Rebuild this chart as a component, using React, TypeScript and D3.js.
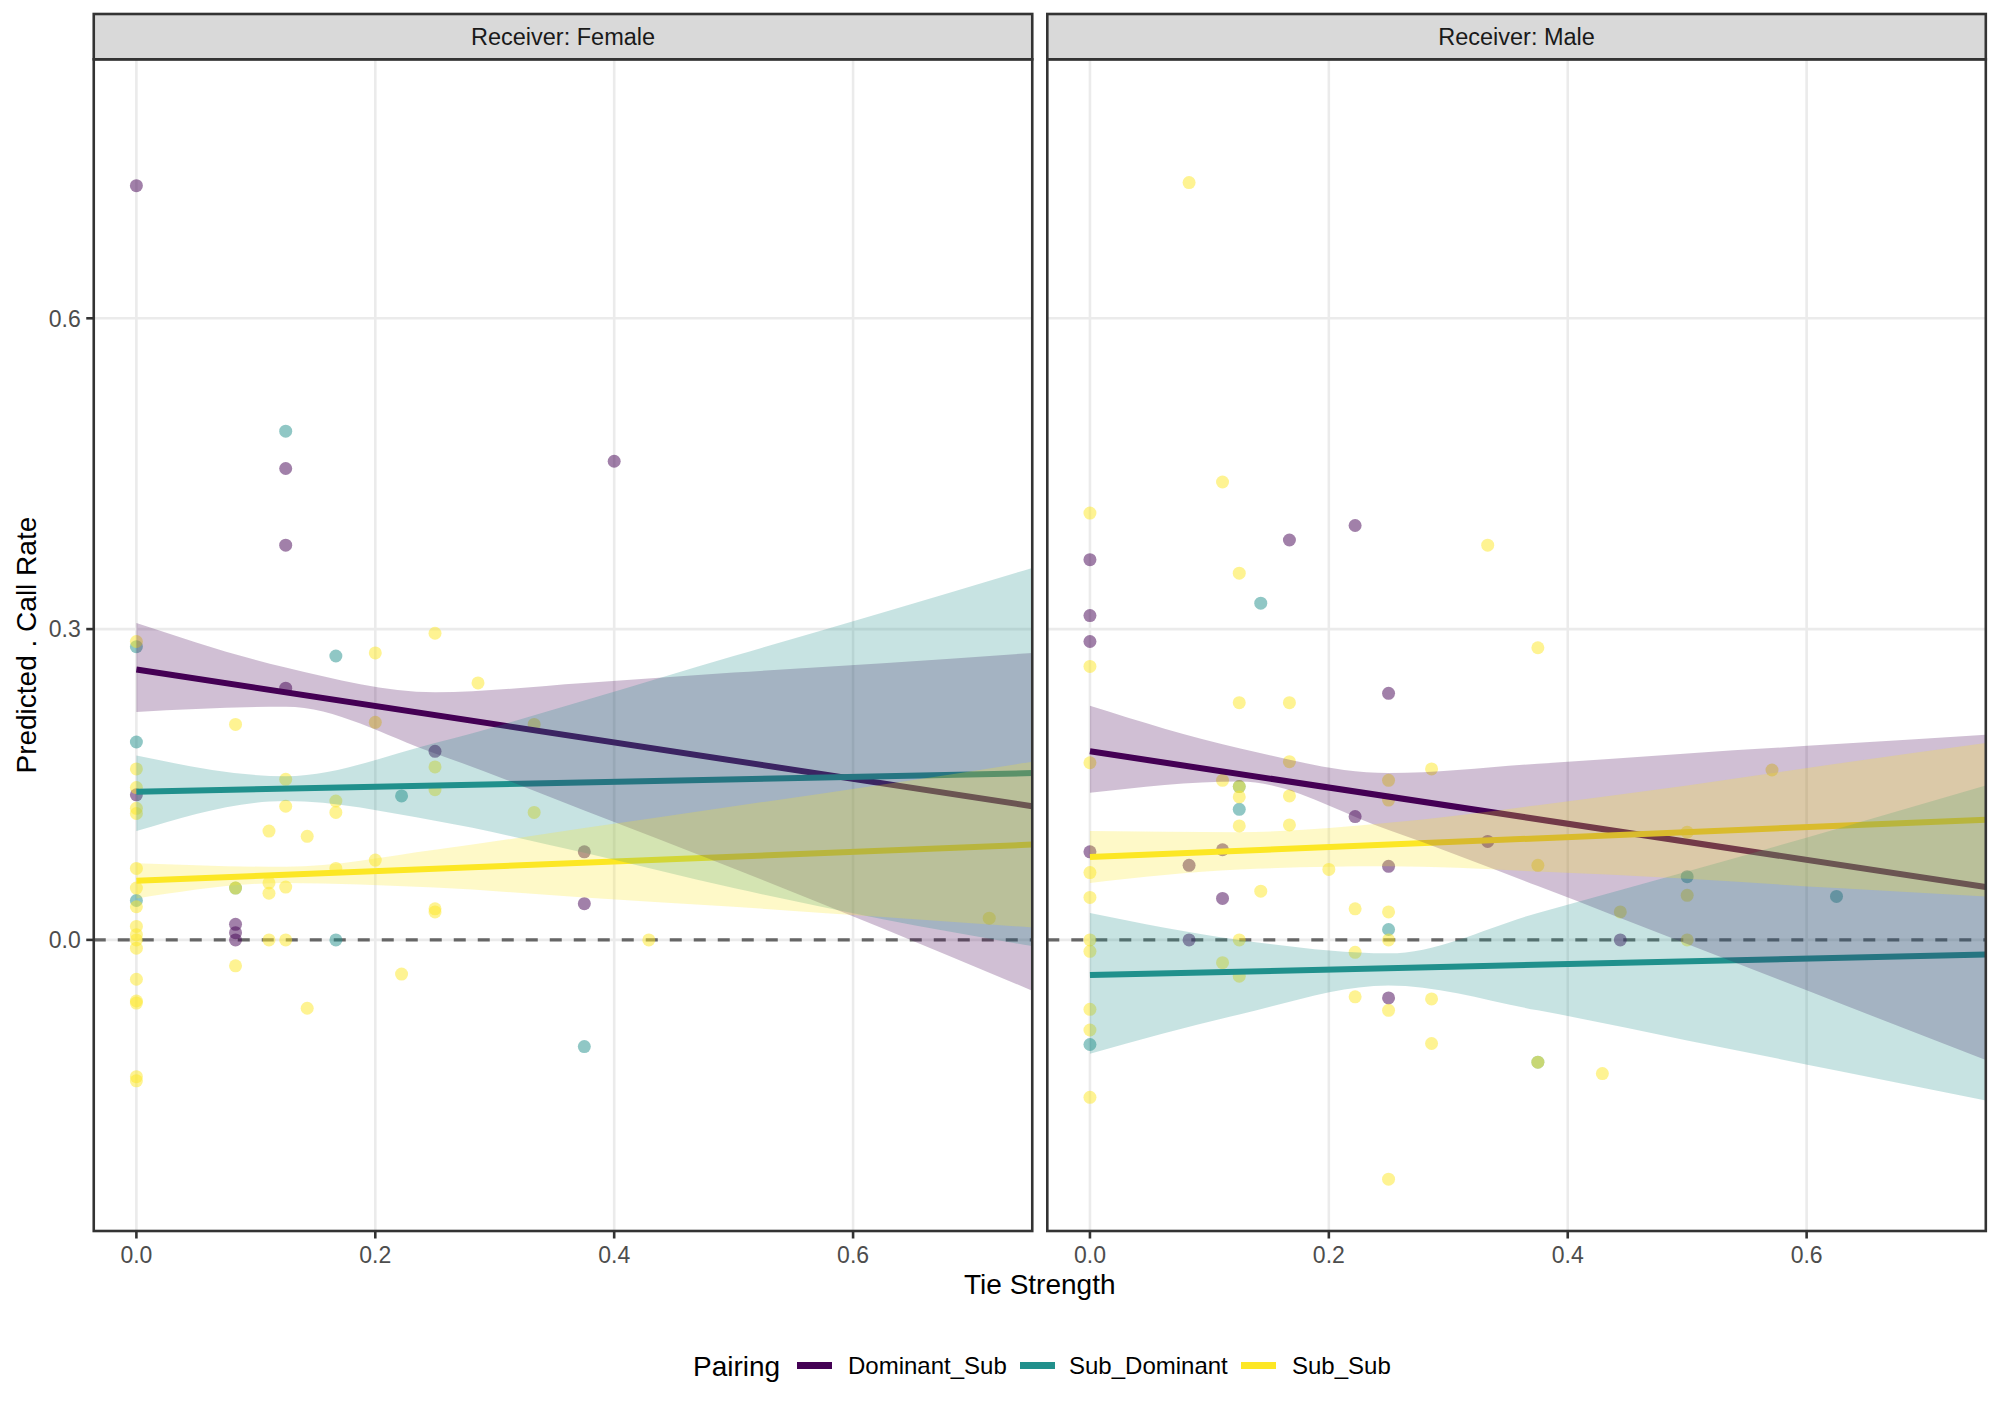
import React from 'react';
import * as d3 from 'd3';

const pairings = ['Dominant_Sub', 'Sub_Dominant', 'Sub_Sub'];
const pairingColors = ['#440154', '#21908C', '#FDE725'];
const receivers = ['Female', 'Male'];

const xTicks = [0, 0.2, 0.4, 0.6];
const yTicks = [0, 0.3, 0.6];

// points: [tie strength, predicted call rate]
const femaleDomSub: [number, number][] = [
  [0, 0.728], [0.125, 0.455], [0.125, 0.381], [0.4, 0.462], [0.125, 0.243], [0.25, 0.182],
  [0, 0.14], [0.375, 0.085], [0.375, 0.035], [0.083, 0.015], [0.083, 0.007], [0.083, 0.0],
];
const femaleSubDom: [number, number][] = [
  [0.125, 0.491], [0, 0.283], [0.167, 0.274], [0, 0.191], [0.222, 0.139], [0.083, 0.05],
  [0, 0.038], [0.167, 0.0], [0.375, -0.103],
];
const femaleSubSub: [number, number][] = [
  [0, 0.288], [0.2, 0.277], [0.25, 0.296], [0.286, 0.248], [0.083, 0.208], [0.2, 0.21],
  [0.333, 0.208], [0, 0.165], [0.25, 0.167], [0.125, 0.155], [0.25, 0.145], [0, 0.147],
  [0, 0.122], [0, 0.127], [0.125, 0.129], [0.167, 0.134], [0.167, 0.123], [0.333, 0.123],
  [0.111, 0.105], [0.143, 0.1], [0, 0.069], [0.167, 0.069], [0.2, 0.077], [0, 0.05],
  [0.083, 0.05], [0.111, 0.055], [0.111, 0.045], [0.125, 0.051], [0, 0.032], [0.25, 0.03],
  [0.25, 0.027], [0, 0.013], [0, 0.005], [0, 0.0], [0, -0.008], [0.111, 0.0], [0.125, 0.0],
  [0.083, -0.025], [0, -0.038], [0.222, -0.033], [0, -0.059], [0, -0.061], [0.143, -0.066],
  [0, -0.132], [0, -0.136], [0.429, 0.0], [0.714, 0.021],
];

const maleDomSub: [number, number][] = [
  [0, 0.367], [0.222, 0.4], [0.167, 0.386], [0, 0.313], [0, 0.288], [0.25, 0.238],
  [0.222, 0.119], [0.333, 0.095], [0, 0.085], [0.111, 0.087], [0.083, 0.072], [0.25, 0.071],
  [0.111, 0.04], [0.083, 0.0], [0.25, -0.056], [0.444, 0.0],
];
const maleSubDom: [number, number][] = [
  [0.143, 0.325], [0.125, 0.148], [0.125, 0.126], [0.25, 0.01], [0, -0.101], [0.375, -0.118],
  [0.5, 0.061], [0.625, 0.042],
];
const maleSubSub: [number, number][] = [
  [0.083, 0.731], [0.111, 0.442], [0, 0.412], [0.333, 0.381], [0.125, 0.354], [0.375, 0.282],
  [0, 0.264], [0.125, 0.229], [0.167, 0.229], [0, 0.171], [0.167, 0.172], [0.286, 0.165],
  [0.111, 0.154], [0.125, 0.148], [0.125, 0.138], [0.167, 0.139], [0.25, 0.154], [0.25, 0.135],
  [0.125, 0.11], [0.167, 0.111], [0.571, 0.164], [0, 0.065], [0.2, 0.068], [0.375, 0.072],
  [0, 0.041], [0.143, 0.047], [0.222, 0.03], [0.25, 0.027], [0, 0.0], [0, -0.011], [0.125, 0.0],
  [0.25, 0.0], [0.222, -0.012], [0.111, -0.022], [0.125, -0.035], [0.222, -0.055], [0.286, -0.057],
  [0.25, -0.068], [0, -0.067], [0, -0.087], [0.286, -0.1], [0.375, -0.118], [0, -0.152],
  [0.25, -0.231], [0.5, 0.104], [0.5, 0.043], [0.444, 0.027], [0.5, 0.0], [0.429, -0.129],
];

// fitted lines (value at x = 0 and x = 0.75)
const fitX = [0, 0.75];
const femaleDomSubFit = [0.261, 0.129];
const femaleSubDomFit = [0.143, 0.161];
const femaleSubSubFit = [0.057, 0.092];
const maleDomSubFit = [0.182, 0.051];
const maleSubDomFit = [-0.034, -0.014];
const maleSubSubFit = [0.08, 0.116];

// confidence bands
const ribbonX = [0, 0.125, 0.25, 0.375, 0.5, 0.625, 0.75];
const femaleDomSubLo = [0.22, 0.225, 0.18, 0.125, 0.069, 0.011, -0.049];
const femaleDomSubHi = [0.306, 0.263, 0.239, 0.248, 0.258, 0.267, 0.277];
const femaleSubDomLo = [0.105, 0.134, 0.115, 0.084, 0.05, 0.02, -0.006];
const femaleSubDomHi = [0.178, 0.158, 0.19, 0.231, 0.274, 0.316, 0.359];
const femaleSubSubLo = [0.04, 0.055, 0.0505, 0.041, 0.032, 0.022, 0.012];
const femaleSubSubHi = [0.074, 0.0705, 0.087, 0.108, 0.129, 0.15, 0.172];
const maleDomSubLo = [0.142, 0.153, 0.106, 0.052, -0.004, -0.06, -0.116];
const maleDomSubHi = [0.226, 0.185, 0.161, 0.17, 0.18, 0.189, 0.198];
const maleSubDomLo = [-0.11, -0.072, -0.044, -0.068, -0.097, -0.126, -0.155];
const maleSubDomHi = [0.026, 0.0, -0.013, 0.026, 0.066, 0.107, 0.149];
const maleSubSubLo = [0.055, 0.068, 0.071, 0.066, 0.059, 0.05, 0.042];
const maleSubSubHi = [0.105, 0.104, 0.113, 0.13, 0.149, 0.17, 0.19];

const panels = [
  {
    points: [femaleDomSub, femaleSubDom, femaleSubSub],
    fits: [femaleDomSubFit, femaleSubDomFit, femaleSubSubFit],
    lo: [femaleDomSubLo, femaleSubDomLo, femaleSubSubLo],
    hi: [femaleDomSubHi, femaleSubDomHi, femaleSubSubHi],
  },
  {
    points: [maleDomSub, maleSubDom, maleSubSub],
    fits: [maleDomSubFit, maleSubDomFit, maleSubSubFit],
    lo: [maleDomSubLo, maleSubDomLo, maleSubSubLo],
    hi: [maleDomSubHi, maleSubDomHi, maleSubSubHi],
  },
];

const W = 2000;
const H = 1414;
const panelLeft = [93.75, 1047.3];
const panelTop = 59.3;
const panelW = 938.5;
const panelH = 1171.7;
const stripTop = 14;
const font = '"Liberation Sans", Arial, Helvetica, sans-serif';

const App: React.FC = () => {
  const x = d3.scaleLinear().domain([-0.0357, 0.75]).range([0, panelW]);
  const y = d3.scaleLinear().domain([-0.281, 0.85]).range([panelH, 0]);

  const area = (lo: number[], hi: number[]) =>
    d3.area<number>()
      .x((d) => x(d))
      .y0((_, i) => y(lo[i]))
      .y1((_, i) => y(hi[i]))
      .curve(d3.curveMonotoneX)(ribbonX) || '';

  const line = (fit: number[]) =>
    d3.line<number>()
      .x((d) => x(d))
      .y((_, i) => y(fit[i]))(fitX) || '';

  const legendKeys = [797, 1020, 1241];
  const legendLabels = [848, 1069, 1292];

  return (
    <svg width={W} height={H} style={{ position: 'absolute', left: 0, top: 0 }} fontFamily={font}>
      <rect width={W} height={H} fill="#ffffff" />
      <defs>
        {panels.map((_, p) => (
          <clipPath id={`clip${p}`} key={p}>
            <rect x={0} y={0} width={panelW} height={panelH} />
          </clipPath>
        ))}
      </defs>
      {panels.map((panel, p) => (
        <g key={p} transform={`translate(${panelLeft[p]},${panelTop})`}>
          <g>
            {yTicks.map((t) => (
              <line key={t} x1={0} x2={panelW} y1={y(t)} y2={y(t)} stroke="#EBEBEB" strokeWidth={2.6} />
            ))}
            {xTicks.map((t) => (
              <line key={t} x1={x(t)} x2={x(t)} y1={0} y2={panelH} stroke="#EBEBEB" strokeWidth={2.6} />
            ))}
          </g>
          <g clipPath={`url(#clip${p})`}>
            <line x1={0} x2={panelW} y1={y(0)} y2={y(0)} stroke="#666666" strokeWidth={3.2} strokeDasharray="12,12" />
            {panel.points.map((pts, s) => (
              <g key={s} fill={pairingColors[s]} fillOpacity={0.5}>
                {pts.map((d, i) => (
                  <circle key={i} cx={x(d[0])} cy={y(d[1])} r={6.5} />
                ))}
              </g>
            ))}
            {panel.fits.map((fit, s) => (
              <path key={s} d={line(fit)} fill="none" stroke={pairingColors[s]} strokeWidth={6} />
            ))}
            {panel.lo.map((lo, s) => (
              <path key={s} d={area(lo, panel.hi[s])} fill={pairingColors[s]} fillOpacity={0.25} stroke="none" />
            ))}
          </g>
          <rect x={0} y={0} width={panelW} height={panelH} fill="none" stroke="#333333" strokeWidth={2.6} />
          <rect x={0} y={stripTop - panelTop} width={panelW} height={panelTop - stripTop} fill="#D9D9D9" stroke="#333333" strokeWidth={2.6} />
          <text x={panelW / 2} y={45 - panelTop} textAnchor="middle" fontSize={23.5} fill="#1A1A1A">
            {`Receiver: ${receivers[p]}`}
          </text>
          {xTicks.map((t) => (
            <g key={t} transform={`translate(${x(t)},${panelH})`}>
              <line y1={0} y2={7.5} stroke="#333333" strokeWidth={2.6} />
              <text y={32} textAnchor="middle" fontSize={23} fill="#4D4D4D">{d3.format('.1f')(t)}</text>
            </g>
          ))}
          {p === 0 &&
            yTicks.map((t) => (
              <g key={t} transform={`translate(0,${y(t)})`}>
                <line x1={-7.5} x2={0} stroke="#333333" strokeWidth={2.6} />
                <text x={-13} dy="0.36em" textAnchor="end" fontSize={23} fill="#4D4D4D">{d3.format('.1f')(t)}</text>
              </g>
            ))}
        </g>
      ))}
      <text x={(panelLeft[0] + panelLeft[1] + panelW) / 2} y={1294} textAnchor="middle" fontSize={28} fill="#000000">
        Tie Strength
      </text>
      <text transform={`translate(36,${panelTop + panelH / 2}) rotate(-90)`} textAnchor="middle" fontSize={28} fill="#000000">
        Predicted . Call Rate
      </text>
      <text x={693} y={1376} fontSize={28} fill="#000000">Pairing</text>
      {pairings.map((name, i) => (
        <g key={name}>
          <line x1={legendKeys[i]} x2={legendKeys[i] + 35} y1={1365.5} y2={1365.5} stroke={pairingColors[i]} strokeWidth={7} />
          <text x={legendLabels[i]} y={1374} fontSize={24} fill="#000000">{name}</text>
        </g>
      ))}
    </svg>
  );
};

export default App;
